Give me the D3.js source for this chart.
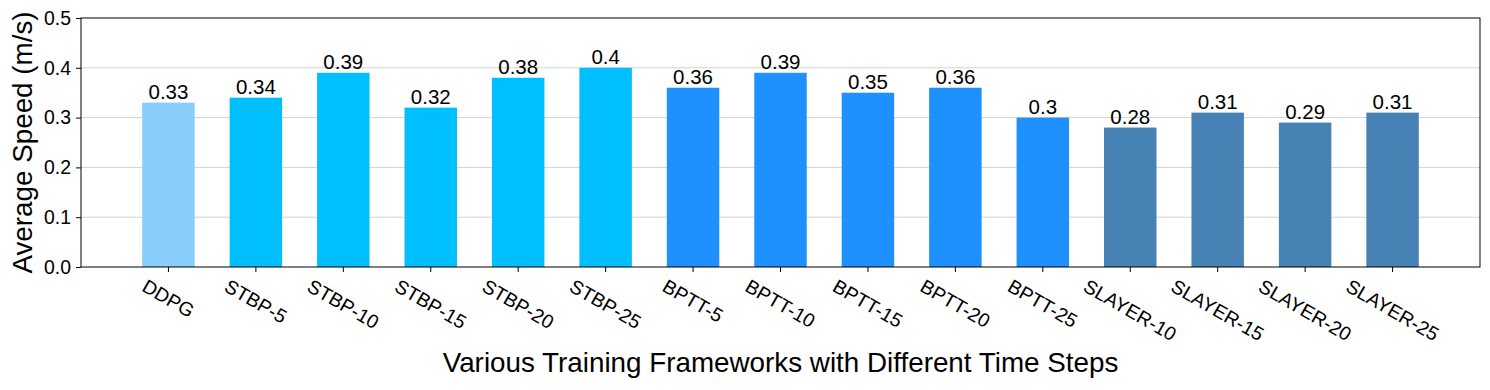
<!DOCTYPE html>
<html>
<head>
<meta charset="utf-8">
<script src="https://cdn.jsdelivr.net/npm/d3@7"></script>
<style>
  body { margin: 0; background: #fff; }
  text { font-family: Arial, "Liberation Sans", sans-serif; fill: #000; }
</style>
</head>
<body>
<svg id="chart" width="1490" height="390"></svg>
<script>
// data
const categories = ['DDPG', 'STBP-5', 'STBP-10', 'STBP-15', 'STBP-20', 'STBP-25',
  'BPTT-5', 'BPTT-10', 'BPTT-15', 'BPTT-20', 'BPTT-25',
  'SLAYER-10', 'SLAYER-15', 'SLAYER-20', 'SLAYER-25'];
const speeds = [0.33, 0.34, 0.39, 0.32, 0.38, 0.4, 0.36, 0.39, 0.35, 0.36, 0.3, 0.28, 0.31, 0.29, 0.31];
const groups = ['DDPG', 'STBP', 'STBP', 'STBP', 'STBP', 'STBP',
  'BPTT', 'BPTT', 'BPTT', 'BPTT', 'BPTT',
  'SLAYER', 'SLAYER', 'SLAYER', 'SLAYER'];
const yTicks = [0, 0.1, 0.2, 0.3, 0.4, 0.5];

const colour = d3.scaleOrdinal()
  .domain(['DDPG', 'STBP', 'BPTT', 'SLAYER'])
  .range(['#87cefa', '#00bfff', '#1e90ff', '#4682b4']);

const svg = d3.select('#chart');
const plotL = 81, plotR = 1480, plotT = 18, plotB = 267;
const tickFont = 19.4, valueFont = 20.5, titleFont = 27.8;

// matplotlib-style positions: bar i sits at x = i, width 0.6
const x = d3.scaleLinear().domain([-1, 15]).range([plotL, plotR]);
const y = d3.scaleLinear().domain([0, 0.5]).range([plotB, plotT]);
const barW = x(0.6) - x(0);

// grid
svg.append('g')
  .selectAll('line')
  .data(yTicks.slice(1, -1))
  .join('line')
  .attr('x1', plotL).attr('x2', plotR)
  .attr('y1', d => y(d)).attr('y2', d => y(d))
  .attr('stroke', '#d3d3d3').attr('stroke-width', 1);

// bars
svg.append('g')
  .selectAll('rect')
  .data(speeds)
  .join('rect')
  .attr('x', (d, i) => x(i) - barW / 2)
  .attr('width', barW)
  .attr('y', d => y(d))
  .attr('height', d => y(0) - y(d))
  .attr('fill', (d, i) => colour(groups[i]));

// value labels
svg.append('g')
  .selectAll('text')
  .data(speeds)
  .join('text')
  .attr('x', (d, i) => x(i))
  .attr('y', d => y(d) - 3.5)
  .attr('text-anchor', 'middle')
  .style('font-size', valueFont + 'px')
  .text(d => String(d));

// frame
svg.append('rect')
  .attr('x', plotL).attr('y', plotT)
  .attr('width', plotR - plotL).attr('height', plotB - plotT)
  .attr('fill', 'none').attr('stroke', '#000').attr('stroke-width', 1);

// y axis
const yAx = svg.append('g')
  .attr('transform', `translate(${plotL},0)`)
  .call(d3.axisLeft(y).tickValues(yTicks).tickFormat(d3.format('.1f')).tickSizeOuter(0).tickSize(5).tickPadding(5));
yAx.select('.domain').remove();
yAx.selectAll('text').style('font-size', tickFont + 'px').attr('fill', '#000');
yAx.selectAll('line').attr('stroke', '#000');

// x axis ticks
const xAx = svg.append('g');
xAx.selectAll('line')
  .data(categories)
  .join('line')
  .attr('x1', (d, i) => x(i)).attr('x2', (d, i) => x(i))
  .attr('y1', plotB).attr('y2', plotB + 5)
  .attr('stroke', '#000');

// rotated x tick labels, bbox centred on the tick and hanging below it
const rot = 30 * Math.PI / 180;
xAx.selectAll('text')
  .data(categories)
  .join('text')
  .style('font-size', tickFont + 'px')
  .attr('text-anchor', 'middle')
  .attr('dominant-baseline', 'central')
  .text(d => d)
  .each(function (d, i) {
    const w = this.getComputedTextLength();
    const h = tickFont * 0.85;
    const hy = (w / 2) * Math.sin(rot) + (h / 2) * Math.cos(rot);
    const cx = x(i), cy = plotB + 10 + hy;
    d3.select(this).attr('transform', `translate(${cx},${cy}) rotate(30)`);
  });

// axis titles
svg.append('text')
  .attr('transform', `translate(22,${(plotT + plotB) / 2}) rotate(-90)`)
  .attr('text-anchor', 'middle')
  .attr('dominant-baseline', 'central')
  .style('font-size', titleFont + 'px')
  .text('Average Speed (m/s)');

svg.append('text')
  .attr('x', (plotL + plotR) / 2)
  .attr('y', 372)
  .attr('text-anchor', 'middle')
  .style('font-size', titleFont + 'px')
  .text('Various Training Frameworks with Different Time Steps');
</script>
</body>
</html>
